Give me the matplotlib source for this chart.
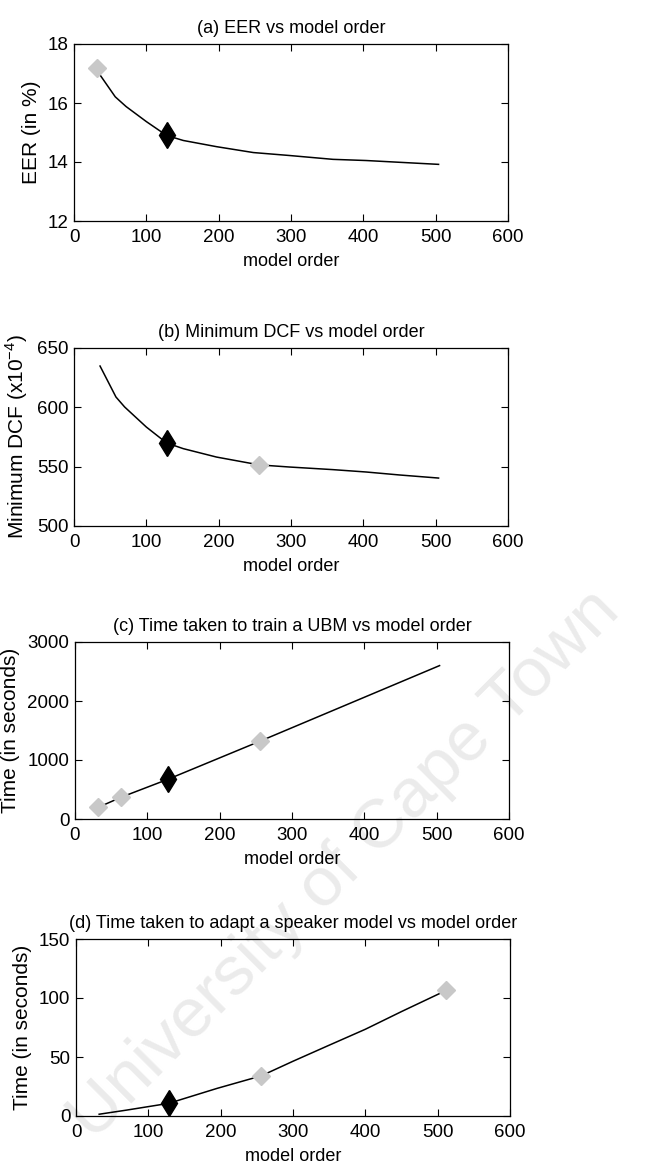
import matplotlib
matplotlib.use("Agg")
import matplotlib.pyplot as plt

# ---------------- data ----------------
order_a = [32, 36, 57, 72, 100, 128, 151, 197, 248, 298, 358, 404, 450, 504]
eer = [17.18, 16.95, 16.21, 15.88, 15.37, 14.9, 14.73, 14.52, 14.32, 14.22, 14.09, 14.05, 13.99, 13.92]
eer_gray_x = [32]
eer_gray_y = [17.18]
eer_black_x = [128]
eer_black_y = [14.9]

order_b = [36, 58, 70, 100, 128, 151, 197, 256, 298, 358, 404, 450, 504]
dcf = [634.8, 608.7, 600.3, 583.4, 570, 565.2, 558.1, 551.5, 549.7, 547.5, 545.5, 543, 540.4]
dcf_gray_x = [256]
dcf_gray_y = [551.0]
dcf_black_x = [128]
dcf_black_y = [570]

order_c = [32, 64, 128, 256, 504]
ubm_time = [197, 370, 671, 1320, 2600]
ubm_gray_x = [32, 64, 256]
ubm_gray_y = [197, 370, 1320]
ubm_black_x = [128]
ubm_black_y = [671]

order_d = [32, 70, 128, 195, 256, 300, 350, 400, 450, 512]
adapt_time = [1.5, 5, 10.7, 23.4, 34, 46.4, 60, 73.5, 88.5, 106.5]
adapt_gray_x = [256, 512]
adapt_gray_y = [34, 106.5]
adapt_black_x = [128]
adapt_black_y = [10.7]

titles = ["(a) EER vs model order",
          "(b) Minimum DCF vs model order",
          "(c) Time taken to train a UBM vs model order",
          "(d) Time taken to adapt a speaker model vs model order"]
ylabels = ["EER (in %)", r"Minimum DCF (x10$^{-4}$)", "Time (in seconds)", "Time (in seconds)"]
xlabel = "model order"
xticks = [0, 100, 200, 300, 400, 500, 600]
yticks_list = [[12, 14, 16, 18], [500, 550, 600, 650], [0, 1000, 2000, 3000], [0, 50, 100, 150]]

# ---------------- style ----------------
fam = "Liberation Sans"
plt.rcParams['font.family'] = [fam, 'DejaVu Sans']
plt.rcParams['mathtext.fontset'] = 'custom'
plt.rcParams['mathtext.rm'] = fam

W, H = 653, 1174
fig = plt.figure(figsize=(W / 100, H / 100), dpi=100)

# axes boxes in pixels: left, top, right, bottom
boxes = [(74, 44, 508, 221), (74, 348, 508, 526), (75, 642, 509, 819), (76, 939, 510, 1116)]

series = [
    (order_a, eer, eer_gray_x, eer_gray_y, eer_black_x, eer_black_y),
    (order_b, dcf, dcf_gray_x, dcf_gray_y, dcf_black_x, dcf_black_y),
    (order_c, ubm_time, ubm_gray_x, ubm_gray_y, ubm_black_x, ubm_black_y),
    (order_d, adapt_time, adapt_gray_x, adapt_gray_y, adapt_black_x, adapt_black_y),
]

for i, (box, s) in enumerate(zip(boxes, series)):
    l, t, r, b = box
    ax = fig.add_axes([l / W, 1 - b / H, (r - l) / W, (b - t) / H])
    ax.set_facecolor('none')
    x, y, gx, gy, bx, by = s
    ax.plot(x, y, color='black', lw=1.1, zorder=2)
    ax.plot(gx, gy, linestyle='none', marker='D', markersize=9.5, color='#c8c8c8',
            markeredgecolor='#c8c8c8', zorder=3)
    ax.plot(bx, by, linestyle='none', marker='d', markersize=13, color='black', zorder=4)
    yt = yticks_list[i]
    ax.set_xlim(0, 600)
    ax.set_ylim(yt[0], yt[-1])
    ax.set_xticks(xticks)
    ax.set_yticks(yt)
    ax.tick_params(direction='in', top=True, right=True, length=5, width=0.8,
                   labelsize=13.5)
    ax.tick_params(axis='x', pad=6)
    ax.tick_params(axis='y', pad=4)
    for sp in ax.spines.values():
        sp.set_linewidth(0.9)
    ax.set_title(titles[i], fontsize=13, pad=8)
    ax.set_xlabel(xlabel, fontsize=13, labelpad=5)
    ax.set_ylabel(ylabels[i], fontsize=15, labelpad=5)

# faint watermark
fig.text(345 / W, 1 - 865 / H, "University of Cape Town", fontsize=50, color='#ebebeb',
         rotation=45, ha='center', va='center', zorder=-5,
         family=['Liberation Sans', 'DejaVu Sans'])

fig.savefig("out.png", dpi=100)
